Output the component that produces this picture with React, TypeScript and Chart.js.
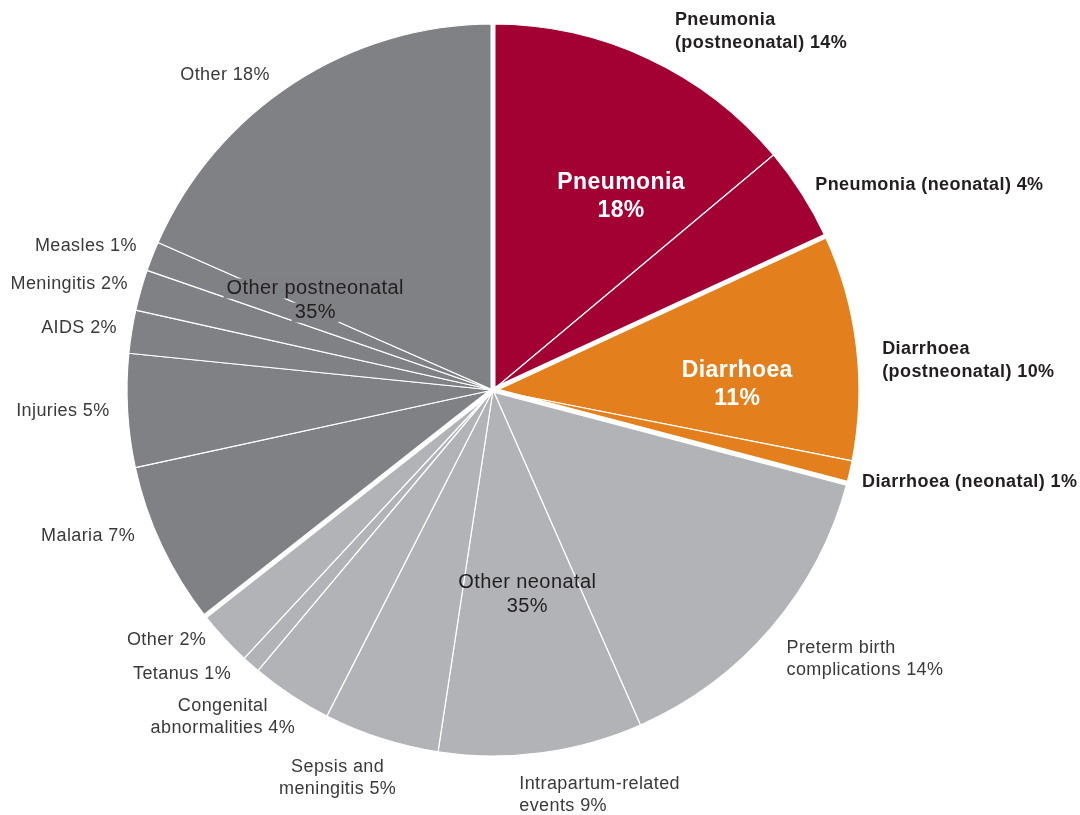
import React, { useEffect, useRef } from "react";
import { Chart, registerables } from "chart.js";

Chart.register(...registerables);

// ---------- data ----------
const causes = [
  "Pneumonia (postneonatal)",
  "Pneumonia (neonatal)",
  "Diarrhoea (postneonatal)",
  "Diarrhoea (neonatal)",
  "Preterm birth complications",
  "Intrapartum-related events",
  "Sepsis and meningitis",
  "Congenital abnormalities",
  "Tetanus",
  "Other (neonatal)",
  "Malaria",
  "Injuries",
  "AIDS",
  "Meningitis",
  "Measles",
  "Other (postneonatal)",
];
const shares = [13.9, 4.2, 10, 1, 14.3, 9, 5.1, 3.6, 0.8, 2.5, 7.2, 5, 1.9, 1.8, 1.3, 18.4];
const labelLines = [
  ["Pneumonia", "(postneonatal) 14%"],
  ["Pneumonia (neonatal) 4%"],
  ["Diarrhoea", "(postneonatal) 10%"],
  ["Diarrhoea (neonatal) 1%"],
  ["Preterm birth", "complications 14%"],
  ["Intrapartum-related", "events 9%"],
  ["Sepsis and", "meningitis 5%"],
  ["Congenital", "abnormalities 4%"],
  ["Tetanus 1%"],
  ["Other 2%"],
  ["Malaria 7%"],
  ["Injuries 5%"],
  ["AIDS 2%"],
  ["Meningitis 2%"],
  ["Measles 1%"],
  ["Other 18%"],
];
const groupNames = ["Pneumonia", "Diarrhoea", "Other neonatal", "Other postneonatal"];
const groupShares = ["18%", "11%", "35%", "35%"];
const groupOf = [0, 0, 1, 1, 2, 2, 2, 2, 2, 2, 3, 3, 3, 3, 3, 3];

// ---------- styles / layout ----------
const groupColors = ["#A30034", "#E3801D", "#B1B3B6", "#808184"];
const FONT = '"Liberation Sans", Arial, sans-serif';

// per-label placement relative to the slice's radial anchor (R + 24)
const outerLayout = [
  { align: "left", dx: 17, dy: -5, bold: true },
  { align: "left", dx: -7, dy: 4, bold: true },
  { align: "left", dx: 2, dy: 17, bold: true },
  { align: "left", dx: -11, dy: 5, bold: true },
  { align: "left", dx: -3, dy: 16, bold: false },
  { align: "left", dx: -25, dy: 18, bold: false },
  { align: "center", dx: -36, dy: 17, bold: false },
  { align: "center", dx: -55, dy: 2, bold: false },
  { align: "right", dx: -4, dy: -9, bold: false },
  { align: "right", dx: 0, dy: -14, bold: false },
  { align: "right", dx: -5, dy: -20, bold: false },
  { align: "right", dx: 6, dy: -1, bold: false },
  { align: "right", dx: 9, dy: 0, bold: false },
  { align: "right", dx: 10, dy: 0, bold: false },
  { align: "right", dx: 7, dy: -2, bold: false },
  { align: "right", dx: -10, dy: 12, bold: false },
];
const groupLayout = [
  { k: 0.65, dx: 0, dy: 7, bold: true, size: 23, lh: 28, color: "#ffffff", bg: false },
  { k: 0.67, dx: 0, dy: 16, bold: true, size: 23, lh: 28, color: "#ffffff", bg: false },
  { k: 0.57, dx: -8, dy: 0, bold: false, size: 20, lh: 24, color: "#231F20", bg: false },
  { k: 0.54, dx: 0, dy: -3, bold: false, size: 20, lh: 24, color: "#231F20", bg: true },
];

const labelPlugin = {
  id: "pieLabels",
  afterDatasetsDraw(chart: any) {
    const ctx: any = chart.ctx;
    const arcs: any[] = chart.getDatasetMeta(0).data;
    if (!arcs.length) return;
    const cx = arcs[0].x;
    const cy = arcs[0].y;
    const R = arcs[0].outerRadius;
    ctx.save();

    // thick white separators between groups
    ctx.strokeStyle = "#ffffff";
    ctx.lineWidth = 5;
    ctx.lineCap = "butt";
    arcs.forEach((arc, i) => {
      const prev = groupOf[(i - 1 + arcs.length) % arcs.length];
      if (groupOf[i] !== prev) {
        const a = arc.startAngle;
        ctx.beginPath();
        ctx.moveTo(cx, cy);
        ctx.lineTo(cx + (R + 3) * Math.cos(a), cy + (R + 3) * Math.sin(a));
        ctx.stroke();
      }
    });

    ctx.letterSpacing = "0.4px";

    // outer labels
    ctx.textBaseline = "middle";
    arcs.forEach((arc, i) => {
      const L = outerLayout[i];
      const m = (arc.startAngle + arc.endAngle) / 2;
      const ax = cx + (R + 24) * Math.cos(m) + L.dx;
      const ay = cy + (R + 24) * Math.sin(m) + L.dy;
      const lines = labelLines[i];
      const lh = L.bold ? 23 : 22;
      ctx.font = `${L.bold ? "bold " : ""}18px ${FONT}`;
      ctx.fillStyle = L.bold ? "#231F20" : "#3a3a3a";
      ctx.textAlign = L.align;
      lines.forEach((t, j) => {
        ctx.fillText(t, ax, ay + (j - (lines.length - 1) / 2) * lh);
      });
    });

    // group labels inside
    groupNames.forEach((name, g) => {
      const idx = groupOf.map((v, i) => (v === g ? i : -1)).filter((i) => i >= 0);
      const s = arcs[idx[0]].startAngle;
      const e = arcs[idx[idx.length - 1]].endAngle;
      const m = (s + e) / 2;
      const G = groupLayout[g];
      const ax = cx + G.k * R * Math.cos(m) + G.dx;
      const ay = cy + G.k * R * Math.sin(m) + G.dy;
      const lines = [name, groupShares[g]];
      ctx.font = `${G.bold ? "bold " : ""}${G.size}px ${FONT}`;
      ctx.textAlign = "center";
      lines.forEach((t, j) => {
        const y = ay + (j - 0.5) * G.lh;
        if (G.bg) {
          const w = ctx.measureText(t).width;
          ctx.fillStyle = groupColors[g];
          ctx.fillRect(ax - w / 2 - 3, y - G.size * 0.5, w + 6, G.size);
        }
      });
      ctx.fillStyle = G.color;
      lines.forEach((t, j) => {
        ctx.fillText(t, ax, ay + (j - 0.5) * G.lh);
      });
    });

    ctx.restore();
  },
};

export default function App() {
  const ref = useRef<HTMLCanvasElement>(null);
  useEffect(() => {
    const canvas = ref.current;
    if (!canvas) return;
    const chart = new Chart(canvas, {
      type: "pie",
      data: {
        labels: causes,
        datasets: [
          {
            data: shares,
            backgroundColor: groupOf.map((g) => groupColors[g]),
            borderColor: "#ffffff",
            borderWidth: 1.2,
            radius: 366,
          } as any,
        ],
      },
      options: {
        responsive: false,
        animation: false,
        events: [],
        layout: { padding: { left: 0, right: 94, top: 0, bottom: 35 } },
        plugins: { legend: { display: false }, tooltip: { enabled: false } },
      } as any,
      plugins: [labelPlugin],
    });
    return () => chart.destroy();
  }, []);
  return (
    <div style={{ position: "fixed", left: 0, top: 0, width: 1080, height: 815, background: "#ffffff" }}>
      <canvas ref={ref} width={1080} height={815} style={{ display: "block" }} />
    </div>
  );
}
